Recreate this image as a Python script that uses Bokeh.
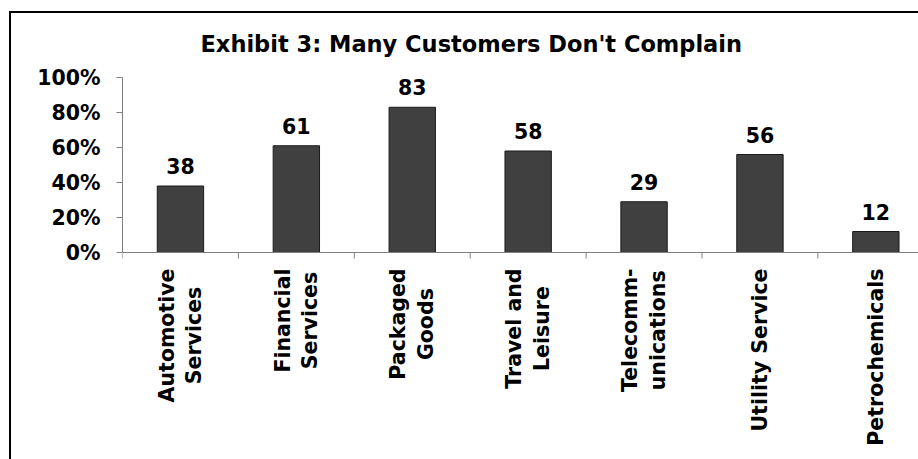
from bokeh.plotting import figure
from bokeh.layouts import column
from bokeh.models import (Range1d, FixedTicker, NumeralTickFormatter, ColumnDataSource, Title, Span)
from bokeh.embed import file_html
from bokeh.resources import INLINE
from bokeh.core.properties import value
import math

# ---- data ----
categories = ["Automotive\nServices", "Financial\nServices", "Packaged\nGoods",
              "Travel and\nLeisure", "Telecomm-\nunications", "Utility Service",
              "Petrochemicals"]
values = [38, 61, 83, 58, 29, 56, 12]          # percent of customers
y_ticks = [0, 20, 40, 60, 80, 100]               # percent
title_text = "Exhibit 3: Many Customers Don't Complain"

FONT = "DejaVu Sans"
W, H = 918, 459
LEFT, TOP = 122, 77            # frame position
PX_PER_UNIT_Y = 175            # 0% -> 100%
PX_PER_CAT = 115.9

n = len(categories)
positions = list(range(1, n + 1))
boundaries = [i + 0.5 for i in range(0, n + 1)]
src = ColumnDataSource(dict(
    x=positions,
    top=[v / 100 for v in values],
    label=[str(v) for v in values],
    cat=categories,
    zero=[0] * n,
))

frame_h = H - TOP
p = figure(width=W, height=H, output_backend="svg", toolbar_location=None,
           x_range=Range1d(0.5, 0.5 + (W - LEFT) / PX_PER_CAT),
           y_range=Range1d(1 - frame_h / PX_PER_UNIT_Y, 1),
           min_border_left=LEFT, min_border_top=TOP, min_border_bottom=0,
           min_border_right=0, title=None)
p.outline_line_color = None
p.grid.grid_line_color = None
p.background_fill_color = "white"
p.border_fill_alpha = 0
p.xaxis.visible = False

t = Title(text=title_text, align="left", offset=78, standoff=42, text_font=FONT,
          text_font_size="22.5px", text_font_style="bold", text_color="black")
p.add_layout(t, "above")

# bars
p.vbar(x="x", top="top", width=0.4, bottom=0, source=src,
       fill_color="#404040", line_color="#1a1a1a", line_width=1)

# value labels
p.text(x="x", y="top", text="label", source=src, y_offset=-20,
       text_align="center", text_baseline="alphabetic",
       text_font=value(FONT), text_font_size="20.5px", text_font_style="bold",
       text_color="black")

# category axis: baseline at 0, ticks at category boundaries, rotated labels
p.add_layout(Span(location=0, dimension="width", line_color="#808080", line_width=1))
p.ray(x=boundaries, y=[0] * len(boundaries), length=6, length_units="screen",
      angle=-math.pi / 2, line_color="#808080", line_width=1)
p.text(x="x", y="zero", text="cat", source=src, y_offset=16, angle=math.pi / 2,
       anchor="center_right", text_align="center",
       text_font=value(FONT), text_font_size="20.5px", text_font_style="bold",
       text_color="black", text_line_height=1.15)

# y axis
ya = p.yaxis[0]
ya.bounds = (0, 1)
ya.ticker = FixedTicker(ticks=[v / 100 for v in y_ticks], minor_ticks=[])
ya.formatter = NumeralTickFormatter(format="0%")
ya.axis_line_color = "#808080"
ya.major_tick_line_color = "#808080"
ya.major_tick_out = 6
ya.major_tick_in = 0
ya.minor_tick_line_color = None
ya.major_label_standoff = 16
ya.major_label_text_font = FONT
ya.major_label_text_font_size = "20.5px"
ya.major_label_text_font_style = "bold"
ya.major_label_text_color = "black"

# chart-area border (left and top edges; right/bottom lie outside the picture)
layout = column(p, width=W, height=H, styles={
    "background-color": "#ffffff",
    "background-image": "linear-gradient(#000000, #000000), linear-gradient(#000000, #000000)",
    "background-position": "9px 11px, 9px 11px",
    "background-size": "2px 100%, 100% 2px",
    "background-repeat": "no-repeat, no-repeat",
})

open("out.html", "w").write(file_html(layout, INLINE))
